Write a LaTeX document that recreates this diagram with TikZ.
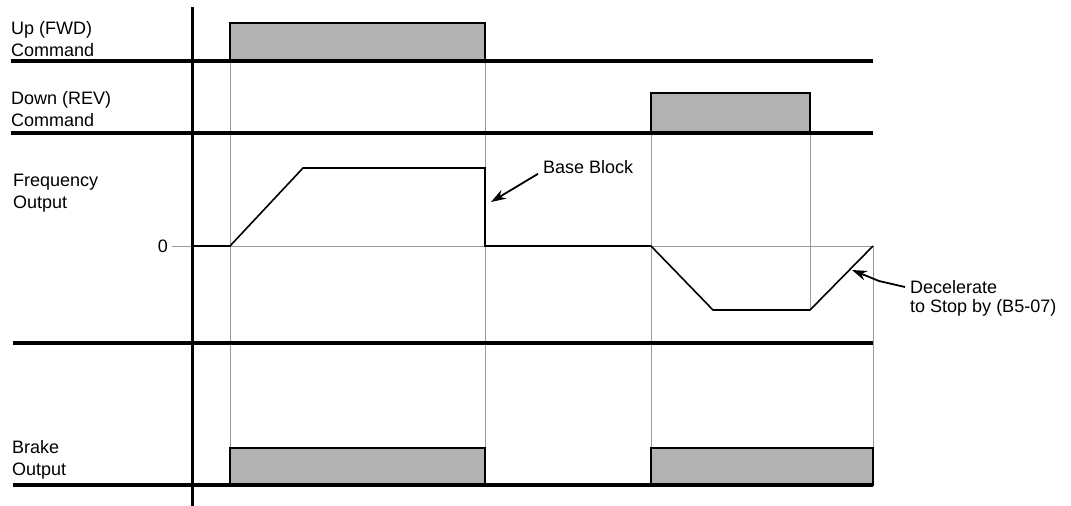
\documentclass[tikz,border=0pt]{standalone}
\usepackage{fontspec}
\setmainfont{Liberation Sans}
\usetikzlibrary{arrows.meta}

\begin{document}
\begin{tikzpicture}[x=1pt, y=-1pt,
    base/.style={line width=4pt},
    pulse/.style={draw=black, line width=1.8pt, fill=gray!60},
    guide/.style={black!40, line width=1pt},
    sig/.style={line width=1.6pt},
    tip/.style={line width=1.8pt, -{Stealth[length=15pt, width=10pt]}},
    lbl/.style={anchor=west, align=left, inner sep=0pt, font=\fontsize{18}{22}\selectfont}]
    \useasboundingbox (0,0) rectangle (1071,506);
    % guide lines
    \draw[guide] (172,246) -- (873,246);
    \foreach \x/\ya/\yb in {230/23/485, 485/23/485, 651/93/485, 810/93/310, 873/246/485}
        \draw[guide] (\x,\ya) -- (\x,\yb);
    % command and brake pulses
    \foreach \xa/\xb/\ya/\yb in {230/485/61/23, 651/810/133/93, 230/485/485/448, 651/873/485/448}
        \draw[pulse] (\xa,\ya) rectangle (\xb,\yb);
    % frequency output
    \draw[sig] (192,246) -- (230,246) -- (303,168) -- (485,168) -- (485,246)
        -- (651,246) -- (713,310) -- (810,310) -- (873,246);
    % baselines and axis
    \foreach \y/\xa in {61/11, 133/11, 343/13, 485/13}
        \draw[base] (\xa,\y) -- (873,\y);
    \draw[line width=3pt] (192,7) -- (192,506);
    % labels
    \node[lbl] (upcmd) at (11,39) {Up (FWD)\\Command};
    \node[lbl] (downcmd) at (11,109) {Down (REV)\\Command};
    \node[lbl] (freq) at (13,193) {Frequency\\Output};
    \node[lbl] (brake) at (12,460) {Brake\\Output};
    \node[lbl, anchor=east] (zero) at (168,246) {0};
    \node[lbl] (bb) at (543,167) {Base Block};
    \node[lbl] (dec) at (910,287) {Decelerate};
    \node[lbl, anchor=north west] (stop) at ([yshift=-5pt]dec.south west) {to Stop by (B5-07)};
    % arrows
    \coordinate (bbtip) at (491,202);
    \coordinate (dectip) at (852,270);
    \draw[tip] ([xshift=-5pt]bb.south west) -- (bbtip);
    \draw[tip] ([xshift=-5pt]dec.west) -- (879,281) -- (dectip);
\end{tikzpicture}
\end{document}
